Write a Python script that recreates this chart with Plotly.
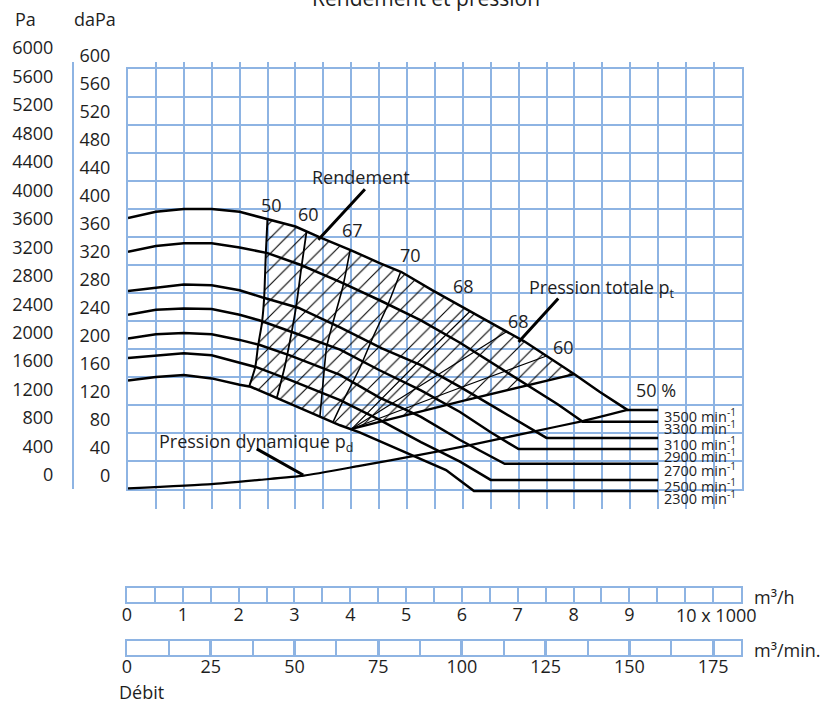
import plotly.graph_objects as go

# ---------------- data (flow in 1000 m3/h, pressure in daPa) ----------------
q_3500 = [0, 0.5, 1.0, 1.5, 2.0, 2.5, 3.0, 3.45, 4.0, 4.5, 4.9, 5.45, 6.05, 6.6, 7.1, 7.5, 8.0, 8.45, 8.95, 9.5]
p_3500 = [387, 396, 400, 400, 396, 386, 375, 359, 341, 323, 310, 284, 257, 233, 211, 190, 164, 139, 113, 113]
q_3300 = [0, 0.5, 1.0, 1.5, 2.0, 2.5, 3.1, 3.8, 4.5, 5.25, 5.95, 6.65, 7.2, 7.7, 8.15, 9.5]
p_3300 = [339, 347, 351, 351, 345, 337, 320, 296, 270, 241, 209, 174, 147, 121, 96, 96]
q_3100 = [0, 0.5, 1.0, 1.5, 2.0, 2.4, 3.05, 3.8, 4.55, 5.25, 5.95, 6.65, 7.2, 7.5, 9.5]
p_3100 = [283, 287, 292, 291, 284, 274, 259, 231, 201, 177, 146, 113, 87, 73, 73]
q_2900 = [0, 0.5, 1.0, 1.5, 2.0, 2.35, 2.95, 3.8, 4.5, 5.25, 5.95, 6.5, 7.0, 9.5]
p_2900 = [249, 256, 258, 257, 249, 241, 224, 199, 170, 141, 110, 81, 57, 57]
q_2700 = [0, 0.5, 1.0, 1.5, 2.0, 2.35, 2.9, 3.8, 4.5, 5.25, 5.95, 6.75, 9.5]
p_2700 = [215, 221, 223, 221, 213, 206, 191, 163, 131, 103, 70, 36, 36]
q_2500 = [0, 0.5, 1.0, 1.5, 2.0, 2.3, 2.9, 3.8, 4.5, 5.25, 5.95, 6.5, 9.5]
p_2500 = [187, 191, 194, 191, 180, 174, 156, 127, 99, 67, 39, 13, 13]
q_2300 = [0, 0.5, 1.0, 1.5, 2.0, 2.2, 2.9, 3.8, 4.15, 5.05, 5.7, 6.2, 9.5]
p_2300 = [155, 160, 163, 158, 149, 146, 122, 91, 81, 49, 27, -3, -3]

rpm_names = ["3500", "3300", "3100", "2900", "2700", "2500", "2300"]

# dynamic pressure
q_pd = [0, 1.5, 2.35, 3.15, 4.15, 5.25, 6.15, 7.2, 8.15, 8.95]
p_pd = [1, 7, 13, 19, 33, 49, 63, 81, 97, 113]

# iso-efficiency lines
q_e50L = [2.5, 2.47, 2.44, 2.4, 2.33, 2.28, 2.17]
p_e50L = [386, 337, 273, 237, 204, 174, 146]
q_e60L = [3.2, 3.11, 3.01, 2.93, 2.81, 2.67]
p_e60L = [368, 318, 259, 223, 175, 131]
q_e67 = [3.98, 3.85, 3.67, 3.56, 3.5, 3.44]
p_e67 = [341, 289, 237, 203, 156, 104]
q_e70 = [4.88, 4.64, 4.39, 4.16, 3.8, 3.67]
p_e70 = [309, 260, 217, 174, 117, 95]
q_e68a = [6.13, 5.07, 4.01]
p_e68a = [254, 171, 86]
q_e68b = [6.79, 5.4, 4.01]
p_e68b = [225, 156, 86]
q_e60R = [7.5, 5.76, 4.01]
p_e60R = [190, 139, 86]
q_e50R = [4.01, 6.0, 8.0]
p_e50R = [86, 126, 164]

eff_labels = ["50", "60", "67", "70", "68", "68", "60", "50 %"]
eff_label_q = [2.58, 3.23, 4.03, 5.07, 6.02, 6.99, 7.81, 9.46]
eff_label_p = [406, 393, 370, 334, 290, 240, 203, 141]

# axis ticks
dapa_ticks = list(range(0, 601, 40))
pa_ticks = list(range(0, 6001, 400))
m3h_ticks = list(range(0, 11))
m3min_ticks = [0, 25, 50, 75, 100, 125, 150, 175]

# ---------------- styling ----------------
W, H = 828, 702
GRID = "#8EB4E3"
TXT = "#1e1e1e"
FONT = "Open Sans, Noto Sans, sans-serif"


def dx(a, b):
    return [a / W, b / W]


def dy(top, bottom):
    return [(H - bottom) / H, (H - top) / H]


fig = go.Figure()

# hatched region (efficiency zone)
hx, hy = [], []
hx += q_e50L; hy += p_e50L
for q, p in zip(q_2300, p_2300):
    if q_e50L[-1] < q < q_e50R[0]:
        hx.append(q); hy.append(p)
hx += q_e50R; hy += p_e50R
for q, p in zip(reversed(q_3500), reversed(p_3500)):
    if q_e50L[0] < q < q_e50R[-1]:
        hx.append(q); hy.append(p)
fig.add_trace(go.Scatter(
    x=hx, y=hy, xaxis="x", yaxis="y3", mode="none", fill="toself",
    fillcolor="rgba(0,0,0,0)",
    fillpattern=dict(shape="/", size=11, solidity=0.1, fgcolor="#000",
                     bgcolor="rgba(0,0,0,0)", fgopacity=1),
    hoverinfo="skip", showlegend=False))

# efficiency lines
for qs, ps, w, smooth in [(q_e50L, p_e50L, 2, True), (q_e60L, p_e60L, 1.8, True),
                          (q_e67, p_e67, 1.6, True), (q_e70, p_e70, 1.5, True),
                          (q_e68a, p_e68a, 1.2, False), (q_e68b, p_e68b, 1.2, False),
                          (q_e60R, p_e60R, 1.2, False), (q_e50R, p_e50R, 2.4, False)]:
    line = dict(color="black", width=w)
    if smooth:
        line.update(shape="spline", smoothing=0.6)
    fig.add_trace(go.Scatter(x=qs, y=ps, xaxis="x", yaxis="y3", mode="lines",
                             line=line, hoverinfo="skip", showlegend=False))

# pressure curves
curves = [(q_3500, p_3500), (q_3300, p_3300), (q_3100, p_3100), (q_2900, p_2900),
          (q_2700, p_2700), (q_2500, p_2500), (q_2300, p_2300)]
for (qs, ps), name in zip(curves, rpm_names):
    fig.add_trace(go.Scatter(x=qs, y=ps, xaxis="x", yaxis="y3", mode="lines",
                             line=dict(color="black", width=2.5),
                             name=name, hoverinfo="skip", showlegend=False))

# dynamic pressure
fig.add_trace(go.Scatter(x=q_pd, y=p_pd, xaxis="x", yaxis="y3", mode="lines",
                         line=dict(color="black", width=2.2, shape="spline", smoothing=0.5),
                         hoverinfo="skip", showlegend=False))

# dummy traces so every axis/subplot is drawn
fig.add_trace(go.Scatter(x=[0, 0], y=[0, 6000], xaxis="x", yaxis="y2", mode="lines",
                         line=dict(width=0), hoverinfo="skip", showlegend=False))
fig.add_trace(go.Scatter(x=[0, 0], y=[0, 600], xaxis="x", yaxis="y", mode="lines",
                         line=dict(width=0), hoverinfo="skip", showlegend=False))
fig.add_trace(go.Scatter(x=[0], y=[0.5], xaxis="x4", yaxis="y4", mode="lines",
                         line=dict(width=0), hoverinfo="skip", showlegend=False))
fig.add_trace(go.Scatter(x=[0], y=[0.5], xaxis="x5", yaxis="y5", mode="lines",
                         line=dict(width=0), hoverinfo="skip", showlegend=False))

ann = []
# title
ann.append(dict(text="Rendement et pression", xref="paper", yref="paper",
                x=426 / W, y=(H + 2) / H, xanchor="center", yanchor="middle",
                showarrow=False, font=dict(size=21, color=TXT)))
# unit headers
ann.append(dict(text="Pa", xref="paper", yref="paper", x=13 / W, y=(H - 19) / H,
                xanchor="left", yanchor="middle", showarrow=False, font=dict(size=18, color=TXT)))
ann.append(dict(text="daPa", xref="paper", yref="paper", x=72 / W, y=(H - 19) / H,
                xanchor="left", yanchor="middle", showarrow=False, font=dict(size=18, color=TXT)))
ann.append(dict(text="m³/h", xref="paper", yref="paper", x=752 / W, y=(H - 597) / H,
                xanchor="left", yanchor="middle", showarrow=False, font=dict(size=18, color=TXT)))
ann.append(dict(text="m³/min.", xref="paper", yref="paper", x=752 / W, y=(H - 650) / H,
                xanchor="left", yanchor="middle", showarrow=False, font=dict(size=18, color=TXT)))
ann.append(dict(text="Débit", xref="paper", yref="paper", x=117 / W, y=(H - 692) / H,
                xanchor="left", yanchor="middle", showarrow=False, font=dict(size=18, color=TXT)))
ann.append(dict(text="10 x 1000", xref="x4", yref="paper", x=10, xshift=-11, y=(H - 615) / H,
                xanchor="left", yanchor="middle", showarrow=False, font=dict(size=18, color=TXT)))

# efficiency labels
for t, q, p in zip(eff_labels, eff_label_q, eff_label_p):
    ann.append(dict(text=t, xref="x", yref="y3", x=q, y=p, showarrow=False,
                    xanchor="center", yanchor="middle", font=dict(size=18, color=TXT)))

# rpm labels
for (qs, ps), name in zip(curves, rpm_names):
    ann.append(dict(text=name + " min<sup>-1</sup>", xref="x", yref="y3", x=qs[-1], y=ps[-1],
                    xanchor="left", yanchor="middle", xshift=4, yshift=-6, showarrow=False,
                    font=dict(size=14.5, color=TXT)))

# callouts
ann.append(dict(text="Rendement", xref="x", yref="y3", x=4.18, y=446, showarrow=False,
                xanchor="center", yanchor="middle", font=dict(size=18, color=TXT)))
ann.append(dict(text="", xref="x", yref="y3", x=3.41, y=356, ax=48, ay=-52,
                showarrow=True, arrowhead=0, arrowwidth=3, arrowcolor="black"))
ann.append(dict(text="Pression totale p<sub>t</sub>", xref="x", yref="y3", x=7.15, y=286,
                showarrow=False, xanchor="left", yanchor="middle", font=dict(size=18, color=TXT)))
ann.append(dict(text="", xref="x", yref="y3", x=7.0, y=210, ax=41, ay=-45,
                showarrow=True, arrowhead=0, arrowwidth=3, arrowcolor="black"))
ann.append(dict(text="Pression dynamique p<sub>d</sub>", xref="x", yref="y3", x=0.52, y=66,
                showarrow=False, xanchor="left", yanchor="middle", font=dict(size=18, color=TXT)))
ann.append(dict(text="", xref="x", yref="y3", x=3.14, y=20, ax=-48, ay=-27,
                showarrow=True, arrowhead=0, arrowwidth=3, arrowcolor="black"))

common_line = dict(showline=True, mirror=True, linecolor=GRID, linewidth=2, zeroline=False,
                   automargin=False)

fig.update_layout(
    template="none",
    width=W, height=H, margin=dict(l=0, r=0, t=0, b=0, autoexpand=False),
    paper_bgcolor="white", plot_bgcolor="rgba(0,0,0,0)",
    font=dict(family=FONT, color=TXT, size=18),
    showlegend=False, hovermode=False,
    annotations=ann,
    xaxis=dict(domain=dx(128, 741.8), range=[0, 11], anchor="y", dtick=0.5, tick0=0,
               showgrid=True, gridcolor=GRID, gridwidth=2, showticklabels=False, ticks="",
               **common_line),
    yaxis=dict(domain=dy(69, 489), range=[0, 600], anchor="x", tickvals=dapa_ticks,
               showgrid=True, gridcolor=GRID, gridwidth=2, ticks="outside", ticklen=12,
               tickcolor="rgba(0,0,0,0)", ticklabelshift=-13, tickfont=dict(size=18, color=TXT),
               **common_line),
    yaxis2=dict(domain=dy(62, 489), range=[0, 6000], anchor="free", position=73 / W,
                side="left", tickvals=pa_ticks, showgrid=False, zeroline=False, automargin=False,
                showline=True, linecolor=GRID, linewidth=2, ticks="outside", ticklen=15,
                tickcolor="rgba(0,0,0,0)", ticklabelshift=-14, tickfont=dict(size=18, color=TXT)),
    yaxis3=dict(domain=dy(69, 509), range=[-20 / 0.7, 600], anchor="x", visible=False,
                automargin=False),
    xaxis4=dict(domain=dx(127, 741), range=[0, 11], anchor="y4", tickvals=m3h_ticks,
                ticktext=[str(v) for v in m3h_ticks[:-1]] + [""],
                showgrid=True, gridcolor=GRID, gridwidth=2, ticks="", ticklabelstandoff=-5,
                minor=dict(dtick=0.5, tick0=0, showgrid=True, gridcolor=GRID, gridwidth=2),
                tickfont=dict(size=18, color=TXT), **common_line),
    yaxis4=dict(domain=dy(588, 602), range=[0, 1], anchor="x4", showgrid=False,
                showticklabels=False, ticks="", **common_line),
    xaxis5=dict(domain=dx(127, 741), range=[0, 11000 / 60], anchor="y5", tickvals=m3min_ticks,
                showgrid=True, gridcolor=GRID, gridwidth=3, ticks="", ticklabelstandoff=-6,
                minor=dict(dtick=12.5, tick0=0, showgrid=True, gridcolor=GRID, gridwidth=2),
                tickfont=dict(size=18, color=TXT), **common_line),
    yaxis5=dict(domain=dy(641, 655), range=[0, 1], anchor="x5", showgrid=False,
                showticklabels=False, ticks="", **common_line),
)

fig.write_html("out.html", config={"displayModeBar": False},
               post_script="document.body.style.margin='0px';")
